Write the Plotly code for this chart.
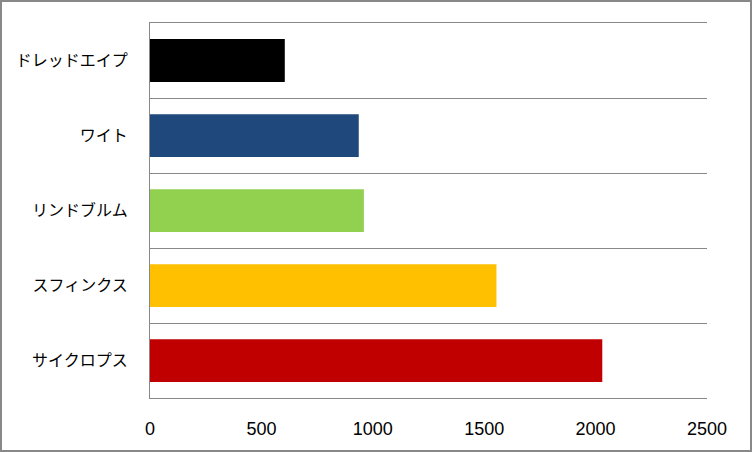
import plotly.graph_objects as go

categories = ["ドレッドエイプ", "ワイト", "リンドブルム", "スフィンクス", "サイクロプス"]
values = [605, 937, 960, 1555, 2030]
colors = ["#000000", "#1F497D", "#92D050", "#FFC000", "#C00000"]
x_ticks = [0, 500, 1000, 1500, 2000, 2500]

W, H = 752, 452
ml, mr, mt, mb = 150, 45, 23, 54
pw, ph = W - ml - mr, H - mt - mb

fig = go.Figure(go.Bar(
    x=values, y=categories, orientation="h",
    marker=dict(color=colors, line=dict(width=0)),
    hoverinfo="x+y",
))

def px_x(p):
    return (p - ml) / pw

def px_y(q):
    return (H - mb - q) / ph

fig.add_shape(type="rect", xref="paper", yref="paper",
              x0=px_x(1), x1=px_x(751), y0=px_y(451), y1=px_y(1),
              line=dict(color="#888888", width=2), fillcolor="rgba(0,0,0,0)",
              layer="above")

fig.update_layout(
    width=W, height=H,
    margin=dict(l=ml, r=mr, t=mt, b=mb, pad=0),
    paper_bgcolor="white", plot_bgcolor="white",
    bargap=0.43,
    showlegend=False,
    xaxis=dict(
        range=[0, 2500], tickvals=x_ticks, ticktext=[str(v) for v in x_ticks],
        showgrid=False, zeroline=False,
        showline=True, mirror=True, linecolor="#888888", linewidth=1,
        ticks="", ticklabelstandoff=14,
        tickfont=dict(family="Liberation Sans", size=18, color="#000000"),
        fixedrange=True,
    ),
    yaxis=dict(
        type="category", categoryorder="array", categoryarray=categories,
        autorange="reversed",
        tickson="boundaries", showgrid=True, gridcolor="#888888", gridwidth=1,
        showline=True, linecolor="#888888", linewidth=1,
        ticks="", ticklabelstandoff=18,
        tickfont=dict(family="Noto Sans CJK JP", size=16, color="#000000"),
        zeroline=False, fixedrange=True,
    ),
)

fig.write_html(
    "out.html",
    config={"displayModeBar": False},
    post_script="document.body.style.margin='0';document.body.style.overflow='hidden';",
)
